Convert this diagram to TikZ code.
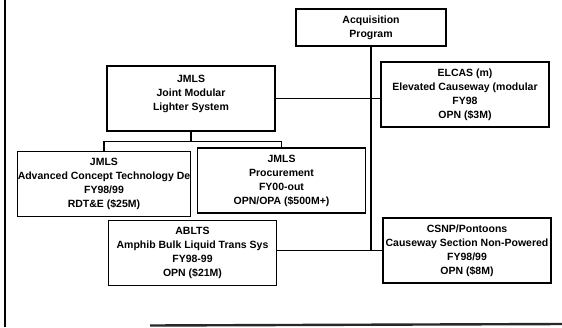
\documentclass[tikz,border=0pt]{standalone}
\usepackage{fontspec}
\setmainfont{Liberation Sans}
\usepackage{tikz}

\tikzset{
  progbox/.style={draw, line width=1.1pt, fill=white, align=center,
    minimum width=168pt, minimum height=65pt, inner sep=0pt,
    font=\bfseries\fontsize{10.5}{14}\selectfont},
  link/.style={line width=1.1pt}
}

\begin{document}
\begin{tikzpicture}[x=1pt,y=-1pt]
\useasboundingbox (0,0) rectangle (562,327);

%Frame lines
\draw [line width=2.6pt] (5,0) -- (5,327) ;
\draw [line width=2.4pt,color={rgb, 255:red, 40; green, 40; blue, 40 }] (150,325.5) -- (562,324) ;

%Shape: Rectangle
\node (acq) [progbox, minimum width=150pt, minimum height=37pt] at (371,27.5) {Acquisition\\Program};
%Shape: Rectangle
\node (jmls) [progbox] at (191,98.5) {JMLS\\Joint Modular\\Lighter System\\[-2pt]~};
%Shape: Rectangle
\node (elcas) [progbox] at (465,94.5) {ELCAS (m)\\Elevated Causeway (modular\\FY98\\OPN (\$3M)};
%Shape: Rectangle
\node (actd) [progbox] at (104,184) {JMLS\\Advanced Concept Technology De\\FY98/99\\RDT\&E (\$25M)};
%Shape: Rectangle
\node (proc) [progbox] at (281.5,180.5) {JMLS\\Procurement\\FY00-out\\OPN/OPA (\$500M+)};
%Shape: Rectangle
\node (ablts) [progbox] at (192.5,253) {ABLTS\\Amphib Bulk Liquid Trans Sys\\FY98-99\\OPN (\$21M)};
%Shape: Rectangle
\node (csnp) [progbox] at (467,250.5) {CSNP/Pontoons\\Causeway Section Non-Powered\\FY98/99\\OPN (\$8M)};

%Straight Lines
\coordinate (split) at ([yshift=-10pt]jmls.south);
\draw [link] (acq.south) -- (acq.south |- csnp.west) ;
\draw [link] (jmls.east) -- (jmls.east -| elcas.west) ;
\draw [link] (ablts.east |- csnp.west) -- (csnp.west) ;
\draw [link] (jmls.south) -- (split) ;
\draw [link] (actd.north) |- (split) -| (proc.north) ;

\end{tikzpicture}
\end{document}
